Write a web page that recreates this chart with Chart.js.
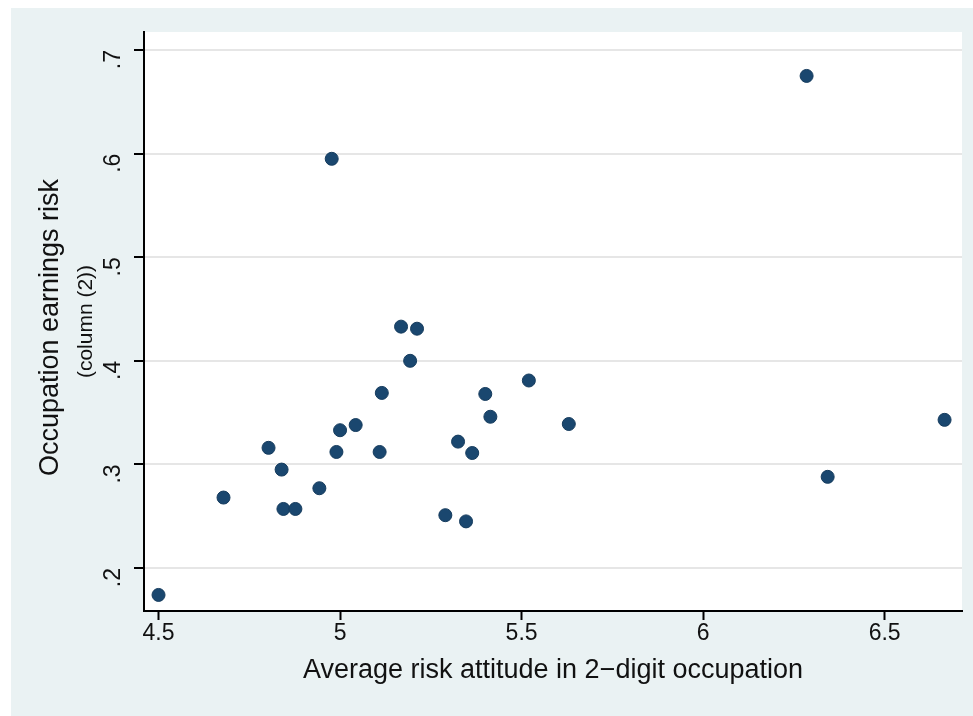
<!DOCTYPE html>
<html>
<head>
<meta charset="utf-8">
<script src="https://cdn.jsdelivr.net/npm/chart.js@4.4.1/dist/chart.umd.min.js"></script>
<style>
  html, body { margin: 0; padding: 0; background: #fff; }
  canvas { display: block; }
</style>
</head>
<body>
<canvas id="chart" width="973" height="716"></canvas>
<script>
// risk attitude (x) vs occupation earnings risk (y), one point per occupation
const riskAttitude = [
  4.50, 4.679, 4.803, 4.839, 4.844, 4.877, 4.943, 4.99, 5.00, 5.043,
  5.109, 5.115, 5.168, 5.212, 5.193, 4.977, 5.29, 5.347, 5.325, 5.364,
  5.40, 5.414, 5.52, 5.63, 6.285, 6.343, 6.665
];
const earningsRisk = [
  0.174, 0.268, 0.316, 0.295, 0.257, 0.257, 0.277, 0.312, 0.333, 0.338,
  0.312, 0.369, 0.433, 0.431, 0.400, 0.595, 0.251, 0.245, 0.322, 0.311,
  0.368, 0.346, 0.381, 0.339, 0.675, 0.288, 0.343
];
const xTicks = [4.5, 5, 5.5, 6, 6.5];
const yTicks = [0.2, 0.3, 0.4, 0.5, 0.6, 0.7];

const xTitle = "Average risk attitude in 2\u2212digit occupation";
const yTitle = "Occupation earnings risk";
const ySubTitle = "(column (2))";

const FONT = "'Liberation Sans', Arial, sans-serif";
const NAVY = "#1a476f";
const BG = "#eaf2f3";

const points = riskAttitude.map((x, i) => ({ x, y: earningsRisk[i] }));

const background = {
  id: "background",
  beforeDraw(chart) {
    const { ctx, chartArea } = chart;
    ctx.save();
    ctx.fillStyle = "#fff";
    ctx.fillRect(0, 0, chart.width, chart.height);
    ctx.fillStyle = BG;
    ctx.fillRect(11, 8, chart.width - 11, chart.height - 8);
    ctx.fillStyle = "#fff";
    ctx.fillRect(chartArea.left, chartArea.top,
      chartArea.right - chartArea.left, chartArea.bottom - chartArea.top);
    ctx.restore();
  },
};

// two-line y title, second line smaller
const yTitles = {
  id: "yTitles",
  afterDraw(chart) {
    const { ctx, chartArea } = chart;
    const cy = (chartArea.top + chartArea.bottom) / 2;
    ctx.save();
    ctx.fillStyle = "#111";
    ctx.textAlign = "center";
    ctx.textBaseline = "middle";
    ctx.translate(51, cy + 6);
    ctx.rotate(-Math.PI / 2);
    ctx.font = "27px " + FONT;
    ctx.fillText(yTitle, 0, 0);
    ctx.font = "21px " + FONT;
    ctx.fillText(ySubTitle, 6, 35);
    ctx.restore();
  },
};

new Chart(document.getElementById("chart"), {
  type: "scatter",
  data: {
    datasets: [{
      data: points,
      backgroundColor: NAVY,
      borderColor: "#163c5e",
      borderWidth: 1,
      pointRadius: 6.5,
      pointHoverRadius: 6.5,
    }],
  },
  options: {
    responsive: false,
    animation: false,
    events: [],
    layout: { padding: { left: 11, top: 32, right: 11, bottom: 0 } },
    plugins: {
      legend: { display: false },
      tooltip: { enabled: false },
    },
    scales: {
      x: {
        type: "linear",
        min: 4.46,
        max: 6.713,
        afterBuildTicks(scale) {
          scale.ticks = xTicks.map((v) => ({ value: v }));
        },
        afterFit(scale) {
          scale.height = 105;
          scale.paddingLeft = 0;
          scale.paddingRight = 0;
        },
        border: { color: "#000", width: 2 },
        grid: {
          drawOnChartArea: false,
          drawTicks: true,
          tickLength: 9,
          tickColor: "#000",
          tickWidth: 2,
        },
        ticks: {
          color: "#111",
          font: { family: FONT, size: 23 },
          padding: 0,
          maxRotation: 0,
          callback: (v) => String(v),
        },
        title: {
          display: true,
          text: xTitle,
          color: "#111",
          font: { family: FONT, size: 27 },
          padding: { top: 0, bottom: 29 },
        },
      },
      y: {
        type: "linear",
        min: 0.1585,
        max: 0.7174,
        afterBuildTicks(scale) {
          scale.ticks = yTicks.map((v) => ({ value: v }));
        },
        afterFit(scale) {
          scale.width = 133;
          scale.paddingTop = 0;
          scale.paddingBottom = 0;
        },
        border: { color: "#000", width: 2 },
        grid: {
          color: "#e6e6e6",
          lineWidth: 2,
          drawTicks: true,
          tickLength: 10,
          tickColor: "#000",
          tickWidth: 2,
        },
        ticks: {
          color: "#111",
          font: { family: FONT, size: 23 },
          padding: 20,
          minRotation: 90,
          maxRotation: 90,
          callback: (v) => v.toFixed(1).replace(/^0/, ""),
        },
      },
    },
  },
  plugins: [background, yTitles],
});
</script>
</body>
</html>
